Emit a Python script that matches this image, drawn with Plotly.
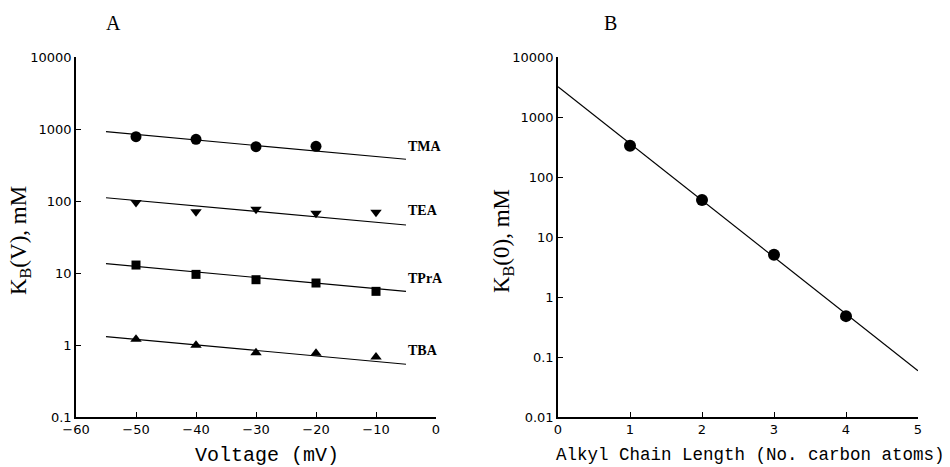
import plotly.graph_objects as go

# ---- Panel A data: K_B(V) vs voltage ----
voltage = [-50, -40, -30, -20, -10]
tma_v = [-50, -40, -30, -20]          # TMA measured at -50..-20 mV
tma_k = [782, 719, 568, 575]
tea_k = [95, 71, 77, 67.5, 69.6]
tpra_k = [12.9, 9.57, 8.07, 7.26, 5.56]
tba_k = [1.20, 0.99, 0.78, 0.77, 0.68]

fit_v = [-55, -5]
tma_fit = [917, 380]
tea_fit = [111, 46.4]
tpra_fit = [13.5, 5.56]
tba_fit = [1.31, 0.54]

series_names = ["TMA", "TEA", "TPrA", "TBA"]

# ---- Panel B data: K_B(0) vs alkyl chain length ----
chain_len = [1, 2, 3, 4]
kb0 = [332, 41.4, 5.07, 0.48]
fit_len = [0, 5]
kb0_fit = [3200, 0.059]

ytick_a = [0.1, 1, 10, 100, 1000, 10000]
ytick_b = [0.01, 0.1, 1, 10, 100, 1000, 10000]
ytick_text_a = ["0.1", "1", "10", "100", "1000", "10000"]
ytick_text_b = ["0.01", "0.1", "1", "10", "100", "1000", "10000"]

W, H = 950, 467
fig = go.Figure()

line_style = dict(color="black", width=1.2)


def add_a(xf, yf, xv, yv, symbol, size):
    fig.add_trace(go.Scatter(x=xf, y=yf, mode="lines", line=line_style,
                             xaxis="x", yaxis="y", showlegend=False, hoverinfo="skip"))
    fig.add_trace(go.Scatter(x=xv, y=yv, mode="markers",
                             marker=dict(symbol=symbol, size=size, color="black"),
                             xaxis="x", yaxis="y", showlegend=False))


add_a(fit_v, tma_fit, tma_v, tma_k, "circle", 11)
add_a(fit_v, tea_fit, voltage, tea_k, "triangle-down", 10)
add_a(fit_v, tpra_fit, voltage, tpra_k, "square", 9)
add_a(fit_v, tba_fit, voltage, tba_k, "triangle-up", 10)

fig.add_trace(go.Scatter(x=fit_len, y=kb0_fit, mode="lines", line=line_style,
                         xaxis="x2", yaxis="y2", showlegend=False, hoverinfo="skip"))
fig.add_trace(go.Scatter(x=chain_len, y=kb0, mode="markers",
                         marker=dict(symbol="circle", size=12, color="black"),
                         xaxis="x2", yaxis="y2", showlegend=False))

tick_font = dict(family="DejaVu Sans", size=13, color="black")
axis_common = dict(showline=True, linecolor="black", linewidth=1.5, ticks="inside",
                   ticklen=5, tickcolor="black", tickwidth=1.2, showgrid=False,
                   zeroline=False, mirror=False, tickfont=tick_font, automargin=False)

ydom = [1 - 417 / H, 1 - 57 / H]
fig.update_layout(
    width=W, height=H,
    margin=dict(l=0, r=0, t=0, b=0, autoexpand=False),
    paper_bgcolor="white", plot_bgcolor="white",
    xaxis=dict(domain=[76 / W, 436 / W], range=[-60, 0], dtick=10,
               anchor="y", **axis_common),
    yaxis=dict(domain=ydom, type="log", range=[-1, 4], tickvals=ytick_a,
               ticktext=ytick_text_a, anchor="x", **axis_common),
    xaxis2=dict(domain=[558 / W, 918 / W], range=[0, 5], dtick=1,
                anchor="y2", **axis_common),
    yaxis2=dict(domain=ydom, type="log", range=[-2, 4], tickvals=ytick_b,
                ticktext=ytick_text_b, anchor="x2", **axis_common),
)

serif = "Liberation Serif"
mono = "Liberation Mono"

# x-axis titles
fig.add_annotation(xref="paper", yref="paper", x=267 / W, y=1 - 455 / H,
                   text="Voltage (mV)", showarrow=False, xanchor="center", yanchor="middle",
                   font=dict(family=mono, size=20, color="black"))
fig.add_annotation(xref="paper", yref="paper", x=750 / W, y=1 - 455 / H,
                   text="Alkyl Chain Length (No. carbon atoms)", showarrow=False,
                   xanchor="center", yanchor="middle",
                   font=dict(family=mono, size=17.5, color="black"))

# series labels at right end of each fit line (panel A)
label_y = [147, 210, 278, 350]
for name, ly in zip(series_names, label_y):
    fig.add_annotation(xref="paper", yref="paper", x=406 / W, y=1 - ly / H,
                       text="<b>" + name + "</b>",
                       showarrow=False, xanchor="left", yanchor="middle",
                       font=dict(family=serif, size=14, color="black"))

# y-axis titles
fig.add_annotation(xref="paper", yref="paper", x=20 / W, y=1 - 241 / H,
                   text="K<sub>B</sub>(V), mM", textangle=-90, showarrow=False,
                   xanchor="center", yanchor="middle",
                   font=dict(family=serif, size=23, color="black"))
fig.add_annotation(xref="paper", yref="paper", x=503 / W, y=1 - 241 / H,
                   text="K<sub>B</sub>(0), mM", textangle=-90, showarrow=False,
                   xanchor="center", yanchor="middle",
                   font=dict(family=serif, size=23, color="black"))

# panel letters
fig.add_annotation(xref="paper", yref="paper", x=113 / W, y=1 - 23 / H, text="A",
                   showarrow=False, xanchor="center", yanchor="middle",
                   font=dict(family=serif, size=20, color="black"))
fig.add_annotation(xref="paper", yref="paper", x=610 / W, y=1 - 23 / H, text="B",
                   showarrow=False, xanchor="center", yanchor="middle",
                   font=dict(family=serif, size=20, color="black"))

fig.write_html("out.html", config={"displayModeBar": False},
               post_script="document.body.style.margin='0';document.body.style.overflow='hidden';")
